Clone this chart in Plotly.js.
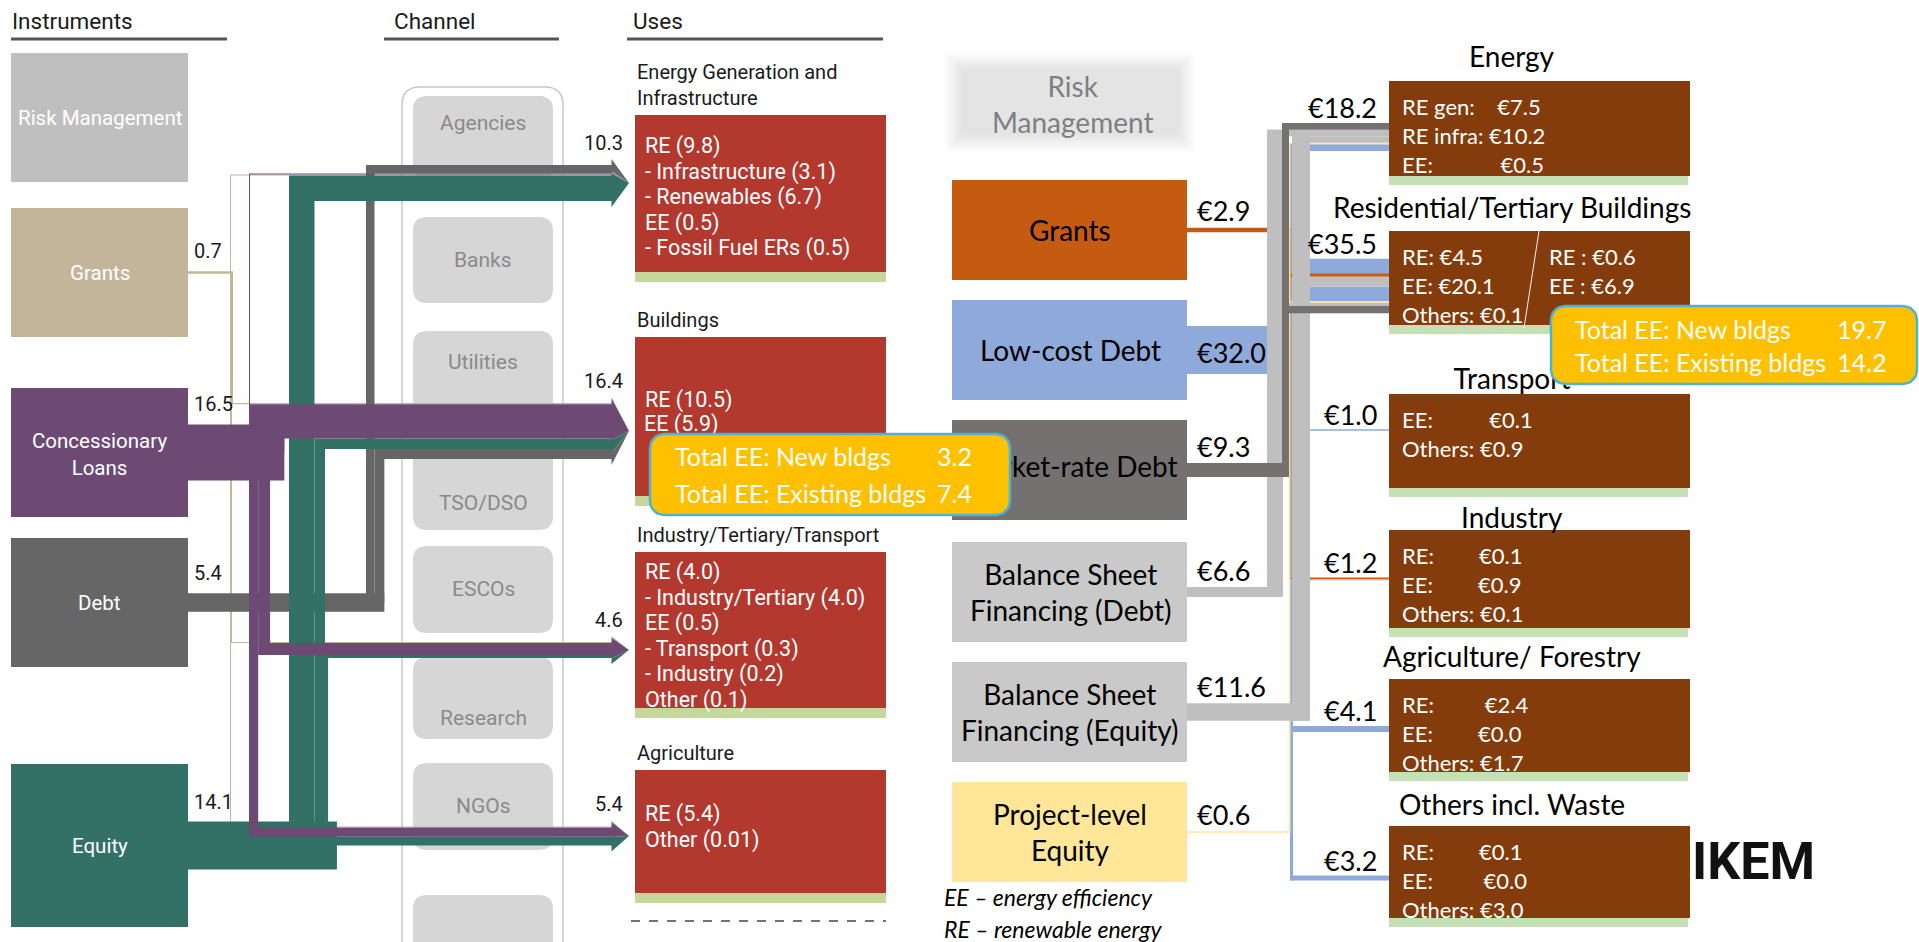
<!DOCTYPE html>
<html><head><meta charset="utf-8">
<script src="https://cdn.plot.ly/plotly-3.0.1.min.js"></script>
<style>html,body{margin:0;padding:0;overflow:hidden;background:#fff}#chart{width:1919px;height:942px}</style>
</head><body><div id="chart"></div>
<script>
// ================= DATA : left panel =================
const leftHeaders = ['Instruments', 'Channel', 'Uses'];
const leftInstruments = ['Risk Management', 'Grants', 'Concessionary<br>Loans', 'Debt', 'Equity'];
const leftInstrumentValues = [null, 0.7, 16.5, 5.4, 14.1];
const leftChannels = ['Agencies', 'Banks', 'Utilities', 'TSO/DSO', 'ESCOs', 'Research', 'NGOs', ''];
const leftUses = ['Energy Generation and<br>Infrastructure', 'Buildings', 'Industry/Tertiary/Transport', 'Agriculture'];
const leftUseValues = [10.3, 16.4, 4.6, 5.4];
const leftUseDetails = [
  ['RE (9.8)', '- Infrastructure (3.1)', '- Renewables (6.7)', 'EE (0.5)', '- Fossil Fuel ERs (0.5)'],
  ['RE (10.5)', 'EE (5.9)'],
  ['RE (4.0)', '- Industry/Tertiary (4.0)', 'EE (0.5)', '- Transport (0.3)', '- Industry (0.2)', 'Other (0.1)'],
  ['RE (5.4)', 'Other (0.01)']
];
// links (listed per use, top to bottom) : source index -> use index
const leftLinkSource = [3, 2, 1, 4,   1, 2, 4, 3,   1, 2, 4,   1, 2, 4];
const leftLinkTarget = [0, 0, 0, 0,   1, 1, 1, 1,   2, 2, 2,   3, 3, 3];
const leftLinkValue  = [2.5, 0.2, 0.1, 7.5,   0.3, 10.1, 3.1, 2.9,   0.2, 3.5, 0.9,   0.1, 2.7, 2.6];
const leftCalloutLabels = ['Total EE: New bldgs', 'Total EE: Existing bldgs'];
const leftCalloutValues = [3.2, 7.4];

// ================= DATA : right panel =================
const rightInstruments = ['Risk<br>Management', 'Grants', 'Low-cost Debt', 'Market-rate Debt',
  'Balance Sheet<br>Financing (Debt)', 'Balance Sheet<br>Financing (Equity)', 'Project-level<br>Equity'];
const rightInstrumentValues = [null, 2.9, 32.0, 9.3, 6.6, 11.6, 0.6];
const rightUses = ['Energy', 'Residential/Tertiary Buildings', 'Transport', 'Industry', 'Agriculture/ Forestry', 'Others incl. Waste'];
const rightUseValues = [18.2, 35.5, 1.0, 1.2, 4.1, 3.2];
const rightUseDetails = [
  ['RE gen:    €7.5', 'RE infra: €10.2', 'EE:            €0.5'],
  ['RE: €4.5', 'EE: €20.1', 'Others: €0.1'],
  ['EE:          €0.1', 'Others: €0.9'],
  ['RE:        €0.1', 'EE:        €0.9', 'Others: €0.1'],
  ['RE:         €2.4', 'EE:        €0.0', 'Others: €1.7'],
  ['RE:        €0.1', 'EE:         €0.0', 'Others: €3.0']
];
const rightResidentialExisting = ['RE : €0.6', 'EE : €6.9'];
const rightLinkSource = [3, 4, 5, 6, 2,   2, 1, 5, 2, 6, 4, 3,   2,   1, 5,   2,   2];
const rightLinkTarget = [0, 0, 0, 0, 0,   1, 1, 1, 1, 1, 1, 1,   2,   3, 3,   4,   5];
const rightLinkValue  = [4.5, 4.4, 4.3, 0.5, 4.5,   9.6, 2.4, 6.6, 9.6, 0.1, 2.2, 4.8,   1.0,   0.5, 0.7,   4.1,   3.2];
const rightCalloutLabels = ['Total EE: New bldgs', 'Total EE: Existing bldgs'];
const rightCalloutValues = [19.7, 14.2];
const legendNotes = ['EE – energy efficiency', 'RE – renewable energy'];
const logoText = 'IKEM';

// ================= STYLE / LAYOUT =================
const NARROW = 'Roboto, "Liberation Sans", sans-serif';
const CAL = 'Lato, "Open Sans", sans-serif';
const leftColors = ['#bfbfbf', '#c3b59a', '#6d4a74', '#666666', '#337167'];
const rightBoxColors = ['#e2e2e2', '#c55a11', '#8eaadb', '#767171', '#c9c9c9', '#c9c9c9', '#ffe699'];
const rightFlowColors = ['#e2e2e2', '#c55a11', '#8eaadb', '#767171', '#bfbfbf', '#bfbfbf', '#ffe699'];

const L = {
  boxX0: 11, boxX1: 188, tops: [53, 208, 388, 538, 764], h: [129, 129, 129, 129, 163],
  trunkLeft: [0, 230, 249, 366, 289], scale: 3.4, minW: 1,
  base: 612, tip: 629, pad: 6, entryY: [183, 431, 650, 836],
  useX0: 635, useX1: 886, useTops: [115, 337, 552, 770], useH: [157, 159, 156, 123],
  detailY0: [146, 400, 572, 814], detailStep: 25.6,
  drawOrder: [1, 3, 4, 2],
  chTops: [96, 217, 331, 443, 546, 657, 763, 895], chBots: [180, 303, 420, 530, 633, 739, 850, 975],
  chTextY: [123, 260, 362, 503, 589, 718, 806, 0]
};
const R = {
  boxX0: 952, boxX1: 1187, tops: [65, 180, 300, 420, 542, 662, 782], h: 100,
  trunkCx: [0, 1290, 1291.5, 1285.5, 1275, 1301, 1289.8], trunkW: [0, 1.5, 3, 7, 16, 18, 1.5],
  scale: 1.5, minW: 1.5,
  tgtX0: 1389, tgtX1: 1690, tgtTops: [81, 231, 394, 530, 679, 826], tgtH: [95, 94, 94, 98, 93, 92],
  entryY: [137, 286, 430, 579, 729, 878], titleY: [56, 207, 382, 517, 656, 804],
  drawOrder: [2, 1, 6, 4, 5, 3]
};

const traces = [], shapes = [], annotations = [];
const nb = s => s.replace(/ {2,}/g, m => '\u00a0'.repeat(m.length));

function poly(xs, ys, color, lineColor, lineWidth) {
  traces.push({type: 'scatter', mode: 'lines', x: xs.concat([xs[0]]), y: ys.concat([ys[0]]),
    fill: 'toself', fillcolor: color, line: {color: lineColor || color, width: lineWidth || 0},
    hoverinfo: 'skip', showlegend: false});
}
function rectT(x0, y0, x1, y1, c) { poly([x0, x1, x1, x0], [y0, y0, y1, y1], c); }
function rectS(x0, y0, x1, y1, c, extra) {
  shapes.push(Object.assign({type: 'rect', xref: 'x', yref: 'y', x0, y0, x1, y1, fillcolor: c,
    line: {width: 0}, layer: 'below'}, extra || {}));
}
function roundPath(x0, y0, x1, y1, r) {
  return `M${x0 + r},${y0} L${x1 - r},${y0} Q${x1},${y0} ${x1},${y0 + r} L${x1},${y1 - r} Q${x1},${y1} ${x1 - r},${y1} ` +
         `L${x0 + r},${y1} Q${x0},${y1} ${x0},${y1 - r} L${x0},${y0 + r} Q${x0},${y0} ${x0 + r},${y0} Z`;
}
function roundPts(x0, y0, x1, y1, r) {
  const xs = [], ys = [];
  [[x1 - r, y0 + r, -90], [x1 - r, y1 - r, 0], [x0 + r, y1 - r, 90], [x0 + r, y0 + r, 180]].forEach(([cx, cy, a0]) => {
    for (let i = 0; i <= 8; i++) { const a = (a0 + i * 90 / 8) * Math.PI / 180; xs.push(cx + r * Math.cos(a)); ys.push(cy + r * Math.sin(a)); }
  });
  return [xs, ys];
}
function txt(x, y, text, o) {
  o = o || {};
  annotations.push({xref: 'x', yref: 'y', x, y, text, showarrow: false, xanchor: o.xa || 'center',
    yanchor: o.ya || 'middle', align: o.align || 'center', borderpad: 0,
    font: {family: o.f || CAL, size: o.s || 20, color: o.c || '#000'}});
}
function txtTrace(x, y, text, pos, size, color, family) {
  traces.push({type: 'scatter', mode: 'text', x: [x], y: [y], text: [text], textposition: pos,
    textfont: {family, size, color}, hoverinfo: 'skip', showlegend: false, cliponaxis: false});
}

// ================= LEFT PANEL =================
[[11, 227, 11], [384, 559, 393], [627, 883, 632]].forEach(([u0, u1, tx], i) => {
  shapes.push({type: 'line', xref: 'x', yref: 'y', x0: u0, x1: u1, y0: 39, y1: 39, line: {color: '#555', width: 3}, layer: 'below'});
  txt(tx, 21, leftHeaders[i], {xa: 'left', f: NARROW, s: 22.5, c: '#1a1a1a'});
});
shapes.push({type: 'path', xref: 'x', yref: 'y', path: roundPath(402, 87, 563, 990, 18), fillcolor: 'rgba(0,0,0,0)',
  line: {color: '#c8c8c8', width: 1.5}, layer: 'below'});
leftChannels.forEach((c, i) => {
  shapes.push({type: 'path', xref: 'x', yref: 'y', path: roundPath(413, L.chTops[i], 553, L.chBots[i], 14),
    fillcolor: '#d6d6d6', line: {width: 0}, layer: 'below'});
  if (c) txt(483, L.chTextY[i], c, {f: NARROW, s: 21, c: '#8a8a8a'});
});
leftInstruments.forEach((name, i) => {
  rectS(L.boxX0, L.tops[i], L.boxX1, L.tops[i] + L.h[i], leftColors[i]);
  txt((L.boxX0 + L.boxX1) / 2, L.tops[i] + L.h[i] / 2 + (i === 2 ? 2 : 0), name, {f: NARROW, s: 20.5, c: '#fff'});
});
leftUses.forEach((u, t) => {
  rectS(L.useX0, L.useTops[t], L.useX1, L.useTops[t] + L.useH[t], '#b3392f');
  rectS(L.useX0, L.useTops[t] + L.useH[t], L.useX1, L.useTops[t] + L.useH[t] + 10, '#c4d89c');
  txt(L.useX0 + 1, L.useTops[t] - 4, u, {xa: 'left', ya: 'bottom', align: 'left', f: NARROW, s: 20, c: '#1a1a1a'});
  leftUseDetails[t].forEach((d, k) => {
    const y = L.detailY0[t] + k * L.detailStep;
    if (t === 1 && k === 1) txtTrace(L.useX0 + 9, y, d, 'middle right', 21.5, '#fff', NARROW);
    else txt(L.useX0 + 9, y, d, {xa: 'left', f: NARROW, s: 21.5, c: '#fff'});
  });
});
shapes.push({type: 'line', xref: 'x', yref: 'y', x0: 631, x1: 886, y0: 921, y1: 921, line: {color: '#444', width: 1.5, dash: 'dash'}, layer: 'below'});

// flows
const lw = leftLinkValue.map(v => Math.max(v * L.scale, L.minW));
const lyt = [], lStack = [];
leftUses.forEach((u, t) => {
  const ids = leftLinkTarget.map((tt, i) => tt === t ? i : -1).filter(i => i >= 0);
  const tot = ids.reduce((a, i) => a + lw[i], 0);
  let y = L.entryY[t] - tot / 2;
  lStack[t] = [y, y + tot];
  ids.forEach(i => { lyt[i] = y + lw[i] / 2; y += lw[i]; });
});
const lcx = [], lTrunkRight = [], lys = [];
leftInstruments.forEach((n, s) => {
  if (!leftInstrumentValues[s]) return;
  const ys = L.tops[s] + L.h[s] / 2; lys[s] = ys;
  const ids = leftLinkSource.map((ss, i) => ss === s ? i : -1).filter(i => i >= 0);
  const up = ids.filter(i => lyt[i] < ys - 1).sort((a, b) => lyt[a] - lyt[b]);
  const down = ids.filter(i => lyt[i] > ys + 1).sort((a, b) => lyt[b] - lyt[a]);
  const level = ids.filter(i => Math.abs(lyt[i] - ys) <= 1);
  let x = L.trunkLeft[s]; up.forEach(i => { lcx[i] = x + lw[i] / 2; x += lw[i]; }); const r1 = x;
  x = L.trunkLeft[s]; down.forEach(i => { lcx[i] = x + lw[i] / 2; x += lw[i]; }); const r2 = x;
  level.forEach(i => { lcx[i] = null; });
  lTrunkRight[s] = Math.max(r1, r2, L.trunkLeft[s] + 2);
});
L.drawOrder.forEach(s => {
  const c = leftColors[s], ys = lys[s], W = Math.max(leftInstrumentValues[s] * L.scale, L.minW);
  rectT(L.boxX1, ys - W / 2, lTrunkRight[s], ys + W / 2, c);
  leftLinkSource.forEach((ss, i) => {
    if (ss !== s) return;
    const w = lw[i], yt = lyt[i], xe = L.base;
    if (lcx[i] === null) { rectT(L.trunkLeft[s], yt - w / 2, xe, yt + w / 2, c); }
    else {
      const cx = lcx[i], sg = Math.sign(yt - ys), outer = yt + sg * w / 2, inner = yt - sg * w / 2;
      poly([cx - w / 2, cx - w / 2, xe, xe, cx + w / 2, cx + w / 2], [ys, outer, outer, inner, inner, ys], c);
    }
    const t = leftLinkTarget[i], [st, sb] = lStack[t], yc = (st + sb) / 2, half = (sb - st) / 2;
    const k = (half + L.pad) / half, a = yt - w / 2, b = yt + w / 2;
    poly([L.base - 0.5, L.base - 0.5, L.tip], [yc + (a - yc) * k, yc + (b - yc) * k, yc], c);
  });
});
leftInstrumentValues.forEach((v, s) => {
  if (!v) return;
  const W = Math.max(v * L.scale, L.minW);
  txt(193, lys[s] - W / 2 - 20, v.toFixed(1), {xa: 'left', f: NARROW, s: 20, c: '#1a1a1a'});
});
leftUseValues.forEach((v, t) => txt(624, lStack[t][0] - 22, v.toFixed(1), {xa: 'right', f: NARROW, s: 20, c: '#1a1a1a'}));

// ================= RIGHT PANEL =================
// soft-edged risk management box (stepped fade)
for (let i = 0; i < 12; i++) {
  const g = Math.round(254 - i * 2.4);
  rectS(944 + i * 1.6, 52 + i * 1.6, 1196 - i * 1.6, 152 - i * 1.6, `rgb(${g},${g},${g})`);
}
txt(1072, 104, rightInstruments[0], {f: CAL, s: 28, c: '#7f7f7f'});
rightInstruments.forEach((n, s) => {
  if (s === 0) return;
  rectS(R.boxX0, R.tops[s], R.boxX1, R.tops[s] + R.h, rightBoxColors[s]);
  const cy = R.tops[s] + R.h / 2;
  if (s === 3) txtTrace(1070, cy, n, 'middle center', 28, '#000', CAL);
  else txt(1070, cy, n, {f: CAL, s: 28, c: '#000'});
});
rightUses.forEach((u, t) => {
  const top = R.tgtTops[t], h = R.tgtH[t];
  rectS(R.tgtX0, top, R.tgtX1, top + h, '#843c0c');
  rectS(R.tgtX0, top + h, R.tgtX1 - 2, top + h + 9, '#c5e0b4');
  if (t === 2) txtTrace(1512, R.titleY[t], u, 'middle center', 28, '#000', CAL);
  else txt(1512, R.titleY[t], u, {f: CAL, s: 28, c: '#000'});
  rightUseDetails[t].forEach((d, k) => txt(1401, top + 25.5 + k * 28.8, nb(d), {xa: 'left', f: CAL, s: 22, c: '#fff'}));
});
rightResidentialExisting.forEach((d, k) => txt(1548, R.tgtTops[1] + 25.5 + k * 28.8, d, {xa: 'left', f: CAL, s: 22, c: '#fff'}));
shapes.push({type: 'line', xref: 'x', yref: 'y', x0: 1539, y0: R.tgtTops[1], x1: 1524, y1: R.tgtTops[1] + 97, line: {color: '#f2f2f2', width: 1}, layer: 'below'});

const rw = rightLinkValue.map(v => Math.max(v * R.scale, R.minW));
const ryt = [], rStack = [];
rightUses.forEach((u, t) => {
  const ids = rightLinkTarget.map((tt, i) => tt === t ? i : -1).filter(i => i >= 0);
  const tot = ids.reduce((a, i) => a + rw[i], 0);
  let y = R.entryY[t] - tot / 2;
  rStack[t] = [y, y + tot];
  ids.forEach(i => { ryt[i] = y + rw[i] / 2; y += rw[i]; });
});
R.drawOrder.forEach(s => {
  const c = rightFlowColors[s], ys = R.tops[s] + R.h / 2, W = Math.max(rightInstrumentValues[s] * R.scale, R.minW);
  const cx = R.trunkCx[s], tw = R.trunkW[s];
  let yTop = ys - W / 2, yBot = ys + W / 2;
  rightLinkSource.forEach((ss, i) => { if (ss === s) { yTop = Math.min(yTop, ryt[i] - rw[i] / 2); yBot = Math.max(yBot, ryt[i] + rw[i] / 2); } });
  rightLinkSource.forEach((ss, i) => { if (ss === s) rectT(cx - tw / 2, ryt[i] - rw[i] / 2, R.tgtX0, ryt[i] + rw[i] / 2, c); });
  rectT(cx - tw / 2, yTop, cx + tw / 2, yBot, c);
  rectT(R.boxX1, ys - W / 2, cx + tw / 2, ys + W / 2, c);
});
rightInstrumentValues.forEach((v, s) => {
  if (!v) return;
  const ys = R.tops[s] + R.h / 2, W = Math.max(v * R.scale, R.minW);
  const y = W > 30 ? ys + 2 : ys - W / 2 - 17;
  txt(1196, y, '€' + v.toFixed(1), {xa: 'left', f: CAL, s: 27, c: '#000'});
});
rightUseValues.forEach((v, t) => txt(1378, rStack[t][0] - 15, '€' + v.toFixed(1), {xa: 'right', f: CAL, s: 27, c: '#000'}));

// ================= CALLOUTS =================
function callout(x0, y0, x1, y1, labels, values, y1t, y2t, tx, vx) {
  const [xs, ys] = roundPts(x0, y0, x1, y1, 14);
  poly(xs, ys, '#ffc000', '#4bb3d6', 2.5);
  [y1t, y2t].forEach((yy, k) => {
    txt(tx, yy, labels[k], {xa: 'left', f: CAL, s: 25, c: '#fff'});
    txt(vx, yy, values[k].toFixed(1), {xa: 'right', f: CAL, s: 25, c: '#fff'});
  });
}
callout(650, 434, 1010, 515, leftCalloutLabels, leftCalloutValues, 456, 493, 674, 973);
callout(1551, 306, 1917, 384, rightCalloutLabels, rightCalloutValues, 329, 362, 1574, 1887);

legendNotes.forEach((n, k) => txt(943, 897 + k * 32, '<i>' + n + '</i>', {xa: 'left', f: CAL, s: 23, c: '#000'}));
txt(1691, 861, '<b>' + logoText + '</b>', {xa: 'left', f: 'Roboto, "Open Sans", sans-serif', s: 52, c: '#111'});

const layout = {
  width: 1919, height: 942, margin: {l: 0, r: 0, t: 0, b: 0, pad: 0},
  paper_bgcolor: '#fff', plot_bgcolor: '#fff', showlegend: false,
  xaxis: {range: [0, 1919], visible: false, fixedrange: true},
  yaxis: {range: [942, 0], visible: false, fixedrange: true},
  shapes, annotations, hovermode: false
};
Plotly.newPlot('chart', traces, layout, {displayModeBar: false, staticPlot: true});
</script></body></html>
